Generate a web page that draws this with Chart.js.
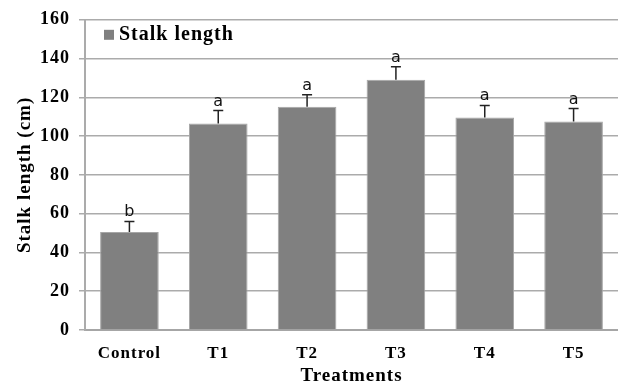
<!DOCTYPE html>
<html>
<head>
<meta charset="utf-8">
<script src="https://cdn.jsdelivr.net/npm/chart.js@4.4.0/dist/chart.umd.min.js"></script>
<style>
  html, body { margin: 0; padding: 0; background: #fff; }
</style>
</head>
<body>
<canvas id="stalk-chart" width="618" height="387"></canvas>
<script>
const treatments = ['Control', 'T1', 'T2', 'T3', 'T4', 'T5'];
const stalkLength = [50.5, 106.5, 115.2, 129.1, 109.6, 107.5];
const stalkError = [5.5, 6.7, 6.2, 6.7, 6.2, 6.7];
const groupLetters = ['b', 'a', 'a', 'a', 'a', 'a'];
const yTicks = [0, 20, 40, 60, 80, 100, 120, 140, 160];

const serif = '"Liberation Serif", "Times New Roman", serif';

// the original text is loosely spaced, so widen the canvas letters a bit
const spacing = {
    id: 'spacing',
    beforeLayout(chart) { chart.ctx.letterSpacing = '1px'; },
    beforeDraw(chart) { chart.ctx.letterSpacing = '1px'; }
};

// error bars + significance letters
const errorBars = {
    id: 'errorBars',
    afterDatasetsDraw(chart) {
        const ctx = chart.ctx;
        const y = chart.scales.y;
        const bars = chart.getDatasetMeta(0).data;
        ctx.save();
        ctx.letterSpacing = '0px';
        ctx.strokeStyle = '#222';
        ctx.lineWidth = 1.5;
        ctx.fillStyle = '#111';
        ctx.font = '16px "DejaVu Sans", Verdana, sans-serif';
        ctx.textAlign = 'center';
        ctx.textBaseline = 'alphabetic';
        bars.forEach((bar, i) => {
            const top = y.getPixelForValue(stalkLength[i]);
            const cap = y.getPixelForValue(stalkLength[i] + stalkError[i]);
            ctx.beginPath();
            ctx.moveTo(bar.x, top);
            ctx.lineTo(bar.x, cap);
            ctx.moveTo(bar.x - 5, cap);
            ctx.lineTo(bar.x + 5, cap);
            ctx.stroke();
            ctx.fillText(groupLetters[i], bar.x, cap - 5);
        });
        ctx.restore();
    }
};

// legend drawn inside the plot area
const innerLegend = {
    id: 'innerLegend',
    afterDraw(chart) {
        const ctx = chart.ctx;
        const area = chart.chartArea;
        const ds = chart.data.datasets[0];
        ctx.save();
        ctx.fillStyle = ds.backgroundColor;
        ctx.fillRect(area.left + 19, area.top + 10, 10, 10);
        ctx.fillStyle = '#000';
        ctx.font = 'bold 20px ' + serif;
        ctx.textBaseline = 'middle';
        ctx.fillText(ds.label, area.left + 34, area.top + 15);
        ctx.restore();
    }
};

new Chart(document.getElementById('stalk-chart'), {
    type: 'bar',
    data: {
        labels: treatments,
        datasets: [{
            label: 'Stalk length',
            data: stalkLength,
            backgroundColor: '#808080',
            borderColor: '#a6a6a6',
            borderWidth: 1,
            categoryPercentage: 0.66,
            barPercentage: 1
        }]
    },
    options: {
        responsive: false,
        maintainAspectRatio: false,
        animation: false,
        layout: { padding: { top: 19, right: 0, left: 0, bottom: 0 } },
        plugins: {
            legend: { display: false },
            tooltip: { enabled: false }
        },
        scales: {
            x: {
                grid: { display: false, drawTicks: false },
                border: { color: '#a6a6a6', width: 2 },
                ticks: {
                    color: '#000',
                    padding: 13,
                    maxRotation: 0,
                    autoSkip: false,
                    font: { family: serif, size: 17, weight: 'bold' }
                },
                title: {
                    display: true,
                    text: 'Treatments',
                    color: '#000',
                    padding: { top: 2, bottom: 0 },
                    font: { family: serif, size: 19, weight: 'bold' }
                },
                afterFit(scale) { scale.height = 57; }
            },
            y: {
                min: 0,
                max: 160,
                afterBuildTicks(scale) { scale.ticks = yTicks.map(v => ({ value: v })); },
                grid: { color: '#ababab', lineWidth: 1.5, tickLength: 6 },
                border: { color: '#ababab', width: 2 },
                ticks: {
                    color: '#000',
                    padding: 9,
                    font: { family: serif, size: 18, weight: 'bold' }
                },
                title: {
                    display: true,
                    text: 'Stalk length (cm)',
                    color: '#000',
                    padding: { top: 14, bottom: 0 },
                    font: { family: serif, size: 19, weight: 'bold' }
                },
                afterFit(scale) { scale.width = 85; }
            }
        }
    },
    plugins: [spacing, errorBars, innerLegend]
});
</script>
</body>
</html>
